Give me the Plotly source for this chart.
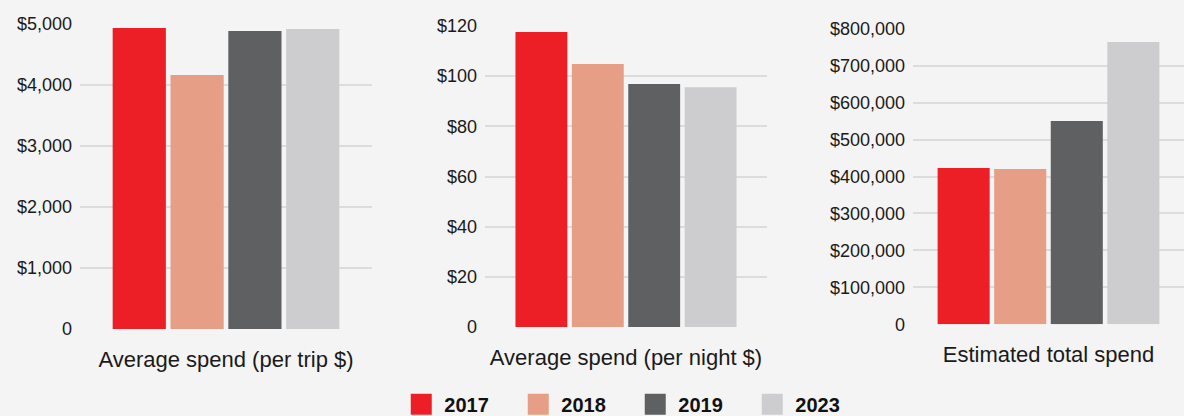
import plotly.graph_objects as go

years = ["2017", "2018", "2019", "2023"]
colors = ["#ec1f27", "#e69e86", "#5f6062", "#cdcdcf"]

panel_labels = ["Average spend (per trip $)", "Average spend (per night $)", "Estimated total spend"]

per_trip = [4935, 4165, 4885, 4920]
per_night = [117.6, 104.9, 96.9, 95.6]
total_spend = [423000, 420000, 550000, 764000]

panel_values = [per_trip, per_night, total_spend]
panel_ticks = [
    [0, 1000, 2000, 3000, 4000, 5000],
    [0, 20, 40, 60, 80, 100, 120],
    [0, 100000, 200000, 300000, 400000, 500000, 600000, 700000, 800000],
]

def fmt(v):
    return "0" if v == 0 else f"${v:,}"

FONT = "Liberation Sans"
TXT = "#1a1a1a"
BG = "#f4f4f4"

fig = go.Figure()

axis_names = ["", "2", "3"]
for p in range(3):
    for i, yr in enumerate(years):
        fig.add_trace(go.Bar(
            x=[panel_labels[p]], y=[panel_values[p][i]], name=yr,
            marker=dict(color=colors[i], line=dict(width=0)),
            xaxis="x" + axis_names[p], yaxis="y" + axis_names[p],
            showlegend=False, hoverinfo="y",
        ))

# legend-only entries
for i, yr in enumerate(years):
    fig.add_trace(go.Scatter(
        x=[None], y=[None], mode="markers", name=yr,
        marker=dict(symbol="square", size=16, color=colors[i],
                    line=dict(color=colors[i], width=5)),
        xaxis="x", yaxis="y", showlegend=True,
    ))

W, H = 1184, 416
x_dom = [(80, 372), (485, 767), (913, 1184)]
y_px = [(329, 24), (327, 26), (324.3, 28.7)]
y_max = [5000, 120, 800000]
x_half = [0.505, 0.5, 0.479]

layout = dict(
    width=W, height=H,
    paper_bgcolor=BG, plot_bgcolor=BG,
    margin=dict(l=0, r=0, t=0, b=0, autoexpand=False),
    barmode="group", bargap=0.2, bargroupgap=0.08,
    font=dict(family=FONT, color=TXT, size=18),
    showlegend=True,
    legend=dict(orientation="h", x=0.534, xanchor="center",
                yref="container", y=0.028, yanchor="middle",
                font=dict(family=FONT, size=20, color="#111111", weight="bold"),
                itemwidth=36, entrywidth=66, itemclick=False, itemdoubleclick=False,
                bgcolor="rgba(0,0,0,0)"),
)
for p in range(3):
    xd = [x_dom[p][0] / W, x_dom[p][1] / W]
    yd = [(H - y_px[p][0]) / H, (H - y_px[p][1]) / H]
    layout["xaxis" + axis_names[p]] = dict(
        domain=xd, type="category", range=[-x_half[p], x_half[p]],
        showgrid=False, zeroline=False, showline=False, automargin=False,
        ticks="", ticklabelstandoff=15,
        tickfont=dict(family=FONT, size=22, color=TXT),
        anchor="y" + axis_names[p], fixedrange=True,
    )
    layout["yaxis" + axis_names[p]] = dict(
        domain=yd, range=[0, y_max[p]], automargin=False,
        tickvals=panel_ticks[p], ticktext=[fmt(v) for v in panel_ticks[p]],
        showgrid=True, gridcolor="#dcdcdc", gridwidth=1.5,
        zeroline=False, showline=False, ticks="",
        ticklabelstandoff=7,
        tickfont=dict(family=FONT, size=18, color=TXT),
        anchor="x" + axis_names[p], fixedrange=True,
    )
fig.update_layout(**layout)
fig.write_html(
    "out.html",
    config={"displayModeBar": False},
    post_script="document.body.style.margin='0';document.body.style.background='%s';" % BG,
)
